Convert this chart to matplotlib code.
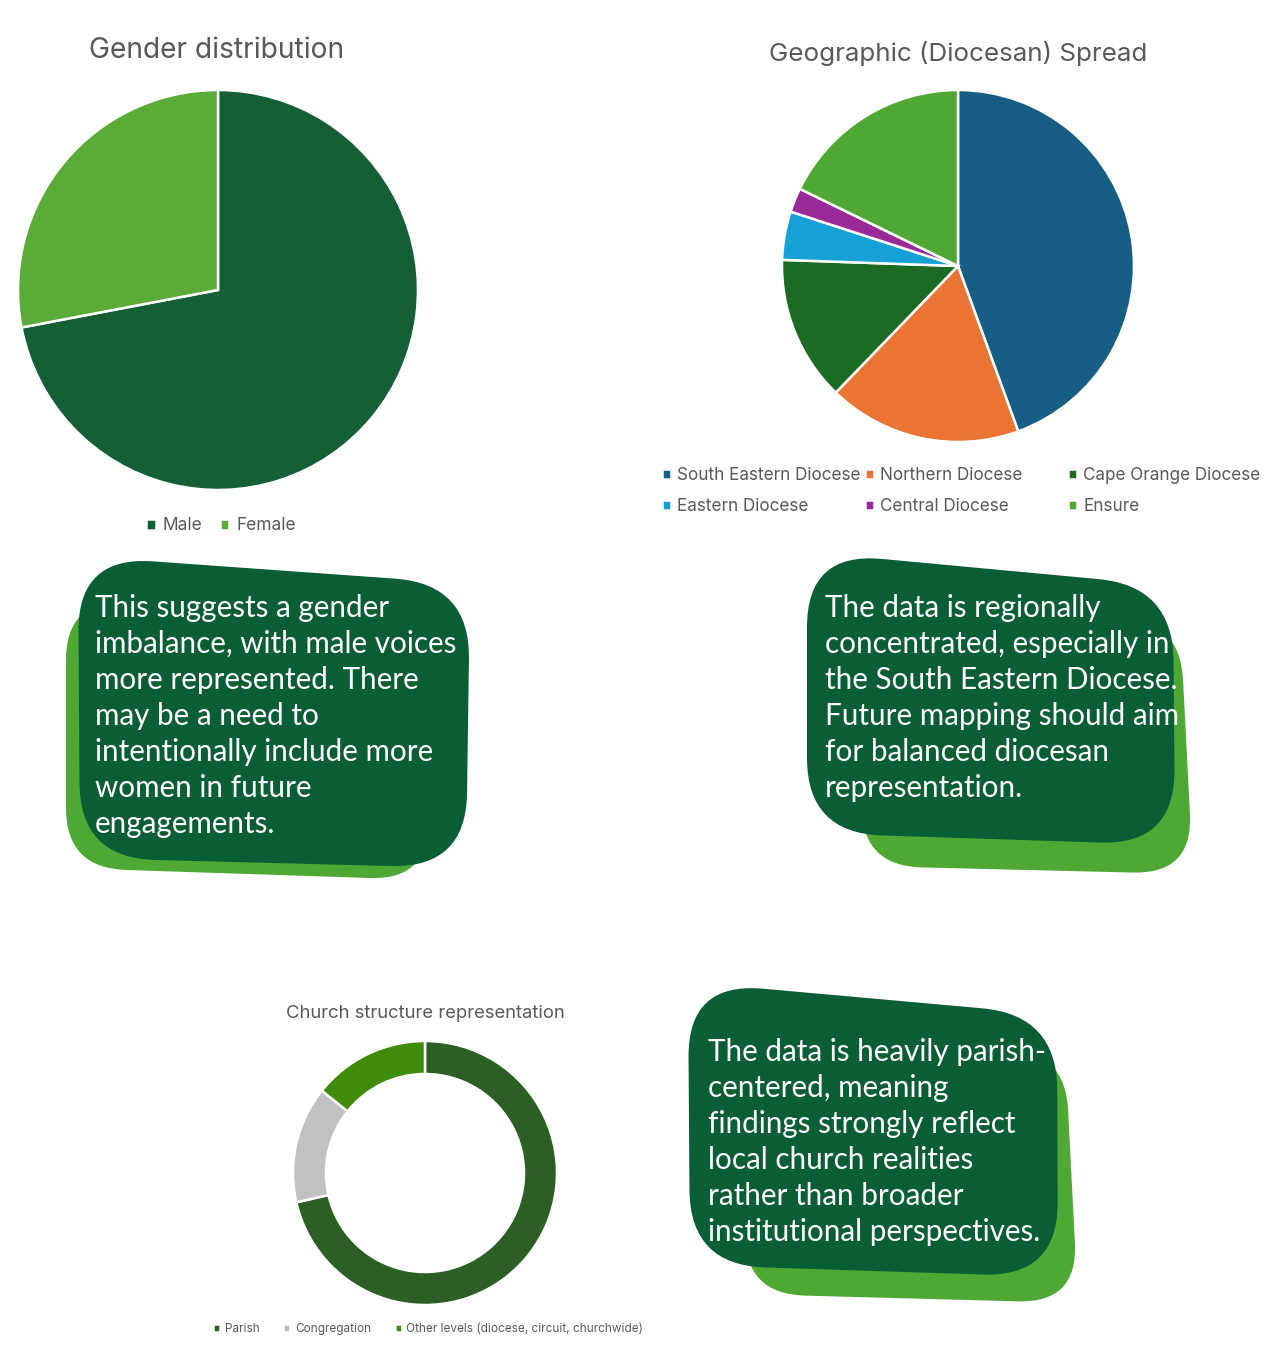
import numpy as np
import matplotlib
matplotlib.use('Agg')
import matplotlib.pyplot as plt
from matplotlib.path import Path
from matplotlib.patches import PathPatch

# Data
gender_labels = ['Male', 'Female']
gender_values = [72, 28]
gender_colors = ['#155f37', '#5aab38']

geo_labels = ['South Eastern Diocese', 'Northern Diocese', 'Cape Orange Diocese',
              'Eastern Diocese', 'Central Diocese', 'Ensure']
geo_values = [20, 8, 6, 2, 1, 8]
geo_colors = ['#175e84', '#ea7434', '#1b6b25', '#15a0d6', '#9a2a97', '#4fa834']

struct_labels = ['Parish', 'Congregation', 'Other levels (diocese, circuit, churchwide)']
struct_values = [10, 2, 2]
struct_colors = ['#2b5f23', '#c1c1c1', '#3f8b0a']

note_gender = ['This suggests a gender', 'imbalance, with male voices',
               'more represented. There', 'may be a need to',
               'intentionally include more', 'women in future', 'engagements.']
note_geo = ['The data is regionally', 'concentrated, especially in',
            'the South Eastern Diocese.', 'Future mapping should aim',
            'for balanced diocesan', 'representation.']
note_struct = ['The data is heavily parish-', 'centered, meaning',
               'findings strongly reflect', 'local church realities',
               'rather than broader', 'institutional perspectives.']

W, H = 1270, 1350
DARK = '#0a5e36'
LIGHT = '#4fa833'
GREY = '#595959'
TITLE_FONT = ['Inter', 'DejaVu Sans']
NOTE_FONT = ['Lato', 'DejaVu Sans']

fig = plt.figure(figsize=(W / 100, H / 100), dpi=100)
fig.patch.set_facecolor('white')

# overlay in pixel coords for the note blobs
ov = fig.add_axes([0, 0, 1, 1])
ov.set_xlim(0, W)
ov.set_ylim(H, 0)
ov.set_axis_off()


def blob(corners, r, color):
    pts = [np.array(c, dtype=float) for c in corners]
    verts, codes = [], []
    n = len(pts)
    for i in range(n):
        p0, p1, p2 = pts[i - 1], pts[i], pts[(i + 1) % n]
        a = p1 + (p0 - p1) * r / np.linalg.norm(p0 - p1)
        b = p1 + (p2 - p1) * r / np.linalg.norm(p2 - p1)
        verts.append(a)
        codes.append(Path.MOVETO if i == 0 else Path.LINETO)
        verts += [p1, b]
        codes += [Path.CURVE3, Path.CURVE3]
    verts.append(verts[0])
    codes.append(Path.CLOSEPOLY)
    ov.add_patch(PathPatch(Path(verts, codes), facecolor=color, edgecolor='none'))


def note(corners, shadow, lines, x0, y0):
    blob(shadow, 60, LIGHT)
    blob(corners, 75, DARK)
    for k, line in enumerate(lines):
        ov.text(x0, y0 + k * 36, line, color='white', fontsize=21.3,
                family=NOTE_FONT, va='center', ha='left')


note([(78, 556), (470, 584), (466, 868), (80, 858)],
     [(66, 600), (420, 610), (430, 880), (66, 868)], note_gender, 95, 608)
note([(807, 552), (1173, 586), (1175, 845), (807, 833)],
     [(860, 600), (1180, 620), (1193, 874), (862, 866)], note_geo, 825, 608)
note([(688, 982), (1057, 1015), (1058, 1277), (690, 1265)],
     [(745, 1040), (1065, 1050), (1078, 1303), (745, 1294)], note_struct, 708, 1052)


def pie_axes(cx, cy, r):
    return fig.add_axes([(cx - r) / W, 1 - (cy + r) / H, 2 * r / W, 2 * r / H])


wedge_kw = dict(edgecolor='white', linewidth=1.8)

# Gender pie
ax1 = pie_axes(218, 290, 200)
w1, _ = ax1.pie(gender_values, colors=gender_colors, startangle=90,
                counterclock=False, wedgeprops=wedge_kw)
ax1.set_xlim(-1, 1)
ax1.set_ylim(-1, 1)
fig.text(217 / W, 1 - 50 / H, 'Gender distribution', ha='center', va='center',
         fontsize=20.3, color=GREY, family=TITLE_FONT)
fig.legend(w1, gender_labels, loc='center', bbox_to_anchor=(221 / W, 1 - 526 / H),
           ncol=2, frameon=False, labelcolor=GREY,
           handlelength=0.55, handleheight=0.55, handletextpad=0.4,
           columnspacing=1.0, prop={'family': TITLE_FONT, 'size': 12.5})

# Geographic pie
ax2 = pie_axes(958, 266, 176)
w2, _ = ax2.pie(geo_values, colors=geo_colors, startangle=90,
                counterclock=False, wedgeprops=wedge_kw)
ax2.set_xlim(-1, 1)
ax2.set_ylim(-1, 1)
fig.text(958 / W, 1 - 53 / H, 'Geographic (Diocesan) Spread', ha='center',
         va='center', fontsize=18.7, color=GREY, family=TITLE_FONT)
# Excel-style legend: three equal-width columns, filled row by row
for col, xcol in enumerate([662, 865, 1068]):
    idx = [col, col + 3]
    fig.legend([w2[i] for i in idx], [geo_labels[i] for i in idx],
               loc='center left', bbox_to_anchor=(xcol / W, 1 - 491 / H),
               ncol=1, frameon=False, labelcolor=GREY, borderpad=0,
               borderaxespad=0, handlelength=0.55, handleheight=0.55,
               handletextpad=0.35, labelspacing=0.85,
               prop={'family': TITLE_FONT, 'size': 12.3})

# Church structure donut
ax3 = pie_axes(425, 1173, 132)
w3, _ = ax3.pie(struct_values, colors=struct_colors, startangle=90,
                counterclock=False,
                wedgeprops=dict(width=0.25, edgecolor='white', linewidth=1.8))
ax3.set_xlim(-1, 1)
ax3.set_ylim(-1, 1)
fig.text(425 / W, 1 - 1014 / H, 'Church structure representation', ha='center',
         va='center', fontsize=13.3, color=GREY, family=TITLE_FONT)
fig.legend(w3, struct_labels, loc='center', bbox_to_anchor=(428 / W, 1 - 1329 / H),
           ncol=3, frameon=False, labelcolor=GREY, handlelength=0.6,
           handleheight=0.6, handletextpad=0.4, columnspacing=2.0,
           prop={'family': TITLE_FONT, 'size': 8.5})

fig.savefig('out.png', dpi=100, facecolor='white')
